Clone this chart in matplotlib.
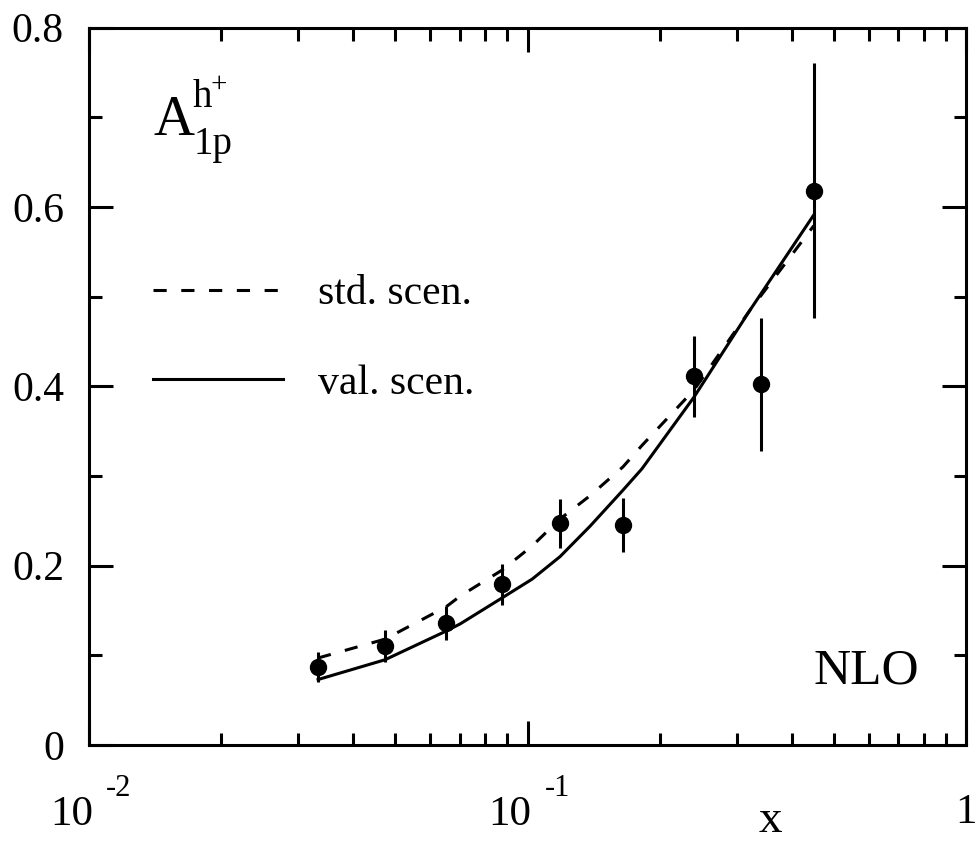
import numpy as np
import matplotlib
matplotlib.use('Agg')
import matplotlib.pyplot as plt
from matplotlib.ticker import FixedLocator, NullFormatter, MultipleLocator, FixedFormatter
from matplotlib.transforms import offset_copy

plt.rcParams['font.family'] = ['Liberation Serif', 'DejaVu Serif']
plt.rcParams['lines.scale_dashes'] = False

# data points (x, A1p^h+, error)
x_data = [0.0333, 0.0473, 0.0652, 0.0875, 0.1186, 0.165, 0.2398, 0.340, 0.4496]
y_data = [0.087, 0.110, 0.136, 0.179, 0.247, 0.245, 0.411, 0.402, 0.618]
y_err = [0.017, 0.018, 0.019, 0.023, 0.027, 0.030, 0.045, 0.074, 0.142]

# theory curves
x_curve = [0.0333, 0.0473, 0.0652, 0.0702, 0.0875, 0.1025, 0.1186, 0.1389, 0.165, 0.1824, 0.2398, 0.3218, 0.4496]
val_scen = [0.073, 0.095, 0.127, 0.135, 0.164, 0.185, 0.210, 0.244, 0.284, 0.308, 0.388, 0.485, 0.591]
std_scen = [0.097, 0.118, 0.154, 0.166, 0.195, 0.222, 0.252, 0.278, 0.310, 0.334, 0.396, 0.485, 0.579]

W, H = 979, 842
fig = plt.figure(figsize=(W / 100, H / 100), dpi=100)
ax = fig.add_axes([89 / W, (H - 745) / H, (966 - 89) / W, (745 - 27.5) / H])

def px(x, y):
    return x / W, 1 - y / H

lw = 2.2
ax.plot(x_curve, std_scen, color='black', lw=lw, dashes=(9.5, 10.5), label='std. scen.')
ax.plot(x_curve, val_scen, color='black', lw=lw, label='val. scen.')
ax.errorbar(x_data, y_data, yerr=y_err, fmt='o', color='black', ms=11.5,
            elinewidth=lw, capsize=0)

ax.set_xscale('log')
ax.set_xlim(0.01, 1)
ax.set_ylim(0, 0.8)
ax.xaxis.set_major_formatter(NullFormatter())
ax.xaxis.set_minor_formatter(NullFormatter())
ax.yaxis.set_minor_locator(MultipleLocator(0.1))
ax.yaxis.set_major_locator(FixedLocator([0, 0.2, 0.4, 0.6, 0.8]))
ax.yaxis.set_major_formatter(FixedFormatter(['0', '0.2', '0.4', '0.6', '0.8']))

for s in ax.spines.values():
    s.set_linewidth(lw)
ax.tick_params(which='both', direction='in', top=True, right=True, width=lw)
ax.tick_params(which='major', length=17, labelsize=30, pad=18)
ax.tick_params(which='minor', length=9)

# x tick labels drawn as 10 with raised exponent
trans = ax.get_xaxis_transform()
for t, e in [(0.01, '-2'), (0.1, '-1')]:
    ax.text(t, -0.1114, '10', ha='right', va='baseline', fontsize=31,
            transform=offset_copy(trans, fig=fig, x=4, y=0, units='dots'), clip_on=False)
    ax.text(t, -0.071, e, ha='left', va='baseline', fontsize=22,
            transform=offset_copy(trans, fig=fig, x=17, y=0, units='dots'), clip_on=False)
ax.text(1, -0.1086, '1', ha='center', va='baseline', fontsize=31, transform=trans, clip_on=False)

fig.text(*px(770, 832), 'x', ha='center', va='baseline', fontsize=34)

# y label inside the plot
fig.text(*px(154, 135), 'A', ha='left', va='baseline', fontsize=41)
fig.text(*px(193, 107), 'h', ha='left', va='baseline', fontsize=28)
fig.text(*px(211, 92), '+', ha='left', va='baseline', fontsize=21)
fig.text(*px(194, 154), '1p', ha='left', va='baseline', fontsize=28)

fig.text(*px(814, 683), 'NLO', ha='left', va='baseline', fontsize=37)

ax.legend(loc='upper left', bbox_to_anchor=((153 - 89) / 877, (745 - 275) / 717.5),
          frameon=False, fontsize=30, handlelength=3.12, handletextpad=0.84,
          labelspacing=1.22, borderpad=0, borderaxespad=0)

fig.savefig('out.png', dpi=100)
